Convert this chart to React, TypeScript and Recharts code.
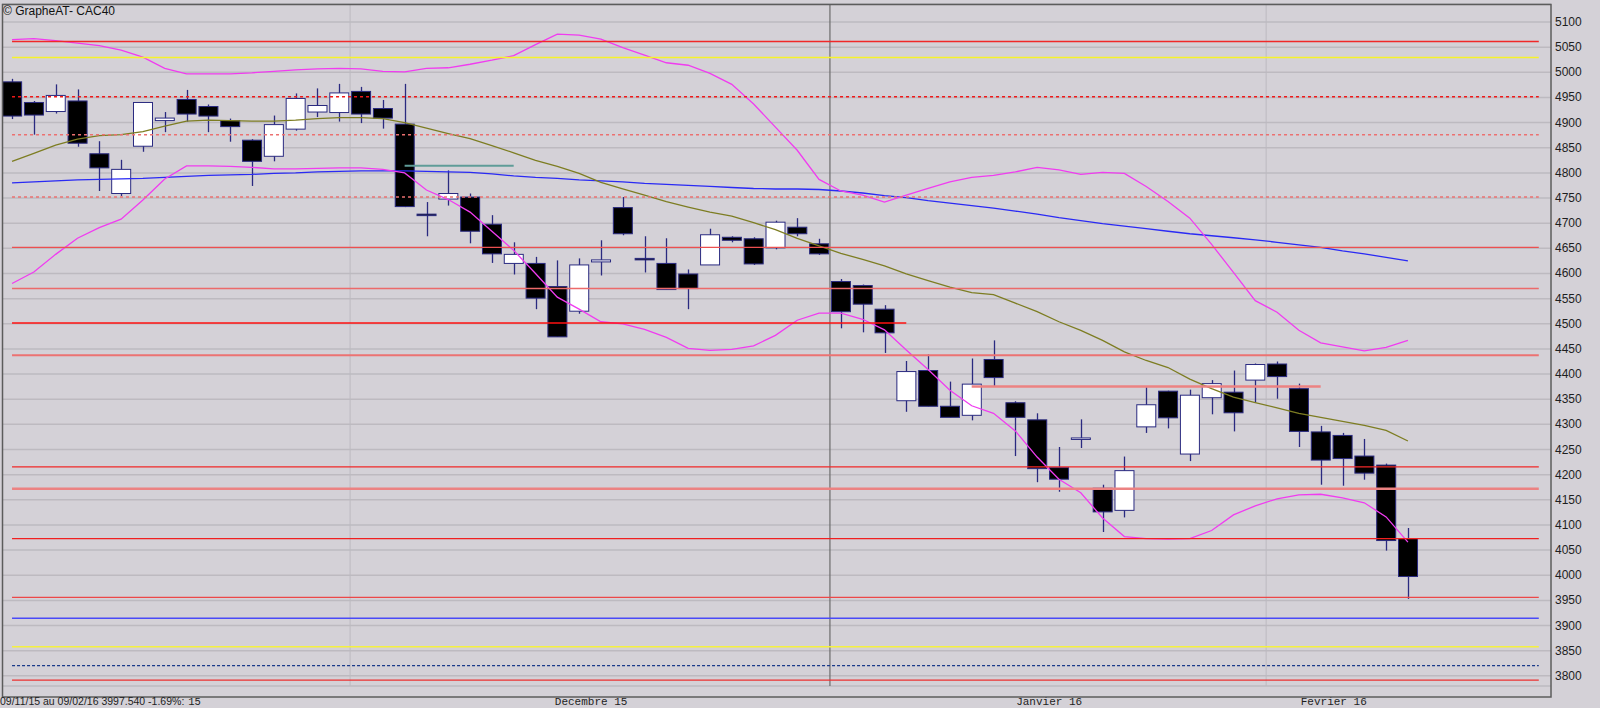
import { ComposedChart, Bar, Line, XAxis, YAxis, CartesianGrid, ReferenceLine } from 'recharts';

// trading days 09/11/15 -> 09/02/16
const dates = [
  '09/11', '10/11', '11/11', '12/11', '13/11', '16/11', '17/11', '18/11', '19/11', '20/11',
  '23/11', '24/11', '25/11', '26/11', '27/11', '30/11',
  '01/12', '02/12', '03/12', '04/12', '07/12', '08/12', '09/12', '10/12', '11/12', '14/12',
  '15/12', '16/12', '17/12', '18/12', '21/12', '22/12', '23/12', '24/12', '28/12', '29/12', '30/12', '31/12',
  '04/01', '05/01', '06/01', '07/01', '08/01', '11/01', '12/01', '13/01', '14/01', '15/01',
  '18/01', '19/01', '20/01', '21/01', '22/01', '25/01', '26/01', '27/01', '28/01', '29/01',
  '01/02', '02/02', '03/02', '04/02', '05/02', '08/02', '09/02',
];

const opens = [
  4981, 4940, 4922, 4943, 4838, 4759, 4853, 4904, 4946, 4932, 4904, 4865, 4833, 4887, 4921, 4920,
  4962, 4928, 4897, 4718, 4748, 4752, 4698, 4620, 4620, 4574, 4525, 4623, 4731, 4630, 4620, 4599,
  4617, 4672, 4669, 4651, 4692, 4659, 4584, 4576, 4529, 4347, 4407, 4336, 4318, 4429, 4343, 4309,
  4214, 4270, 4173, 4129, 4295, 4366, 4241, 4353, 4364, 4388, 4420, 4371, 4285, 4278, 4237, 4219, 4073,
];
const highs = [
  4987, 4943, 4976, 4966, 4863, 4826, 4940, 4921, 4965, 4936, 4908, 4867, 4914, 4958, 4968, 4977,
  4971, 4945, 4977, 4742, 4805, 4759, 4716, 4662, 4633, 4626, 4630, 4666, 4752, 4674, 4670, 4608,
  4689, 4674, 4672, 4705, 4710, 4669, 4589, 4578, 4537, 4426, 4439, 4385, 4431, 4467, 4346, 4322,
  4255, 4310, 4180, 4236, 4374, 4367, 4369, 4388, 4407, 4421, 4425, 4381, 4297, 4283, 4271, 4222, 4094,
];
const lows = [
  4907, 4876, 4918, 4852, 4764, 4754, 4842, 4881, 4902, 4881, 4862, 4774, 4823, 4884, 4911, 4902,
  4899, 4888, 4732, 4674, 4735, 4660, 4621, 4598, 4529, 4474, 4520, 4596, 4676, 4602, 4568, 4529,
  4617, 4662, 4617, 4648, 4674, 4637, 4491, 4483, 4442, 4325, 4336, 4314, 4308, 4375, 4237, 4185,
  4166, 4253, 4086, 4115, 4283, 4292, 4227, 4320, 4286, 4343, 4351, 4255, 4180, 4178, 4190, 4049, 3953,
];
const closes = [
  4913, 4915, 4954, 4859, 4810, 4807, 4940, 4909, 4917, 4913, 4892, 4823, 4896, 4948, 4934, 4959,
  4917, 4909, 4733, 4716, 4759, 4684, 4639, 4638, 4551, 4474, 4617, 4627, 4679, 4629, 4568, 4570,
  4677, 4666, 4619, 4702, 4679, 4639, 4524, 4539, 4482, 4405, 4336, 4314, 4380, 4393, 4314, 4212,
  4191, 4273, 4126, 4208, 4339, 4313, 4358, 4381, 4323, 4419, 4395, 4286, 4229, 4232, 4203, 4069, 3997.5,
];

// indicators
const ma20 = [
  4823, 4839, 4855, 4867, 4874, 4876, 4882, 4893, 4903, 4905, 4904, 4903, 4903, 4905, 4908, 4910,
  4910, 4908, 4900, 4889, 4878, 4868, 4854, 4840, 4825, 4813, 4799, 4781, 4768, 4756, 4743, 4732,
  4722, 4714, 4701, 4687, 4670, 4655, 4640, 4628, 4615, 4599, 4586, 4573, 4562, 4558, 4541, 4524,
  4504, 4487, 4467, 4444, 4427, 4413, 4390, 4371, 4354, 4343, 4333, 4322, 4314, 4306, 4298, 4288, 4267,
];
const ma50 = [
  4780, 4782, 4784, 4786, 4787, 4788, 4789, 4791, 4793, 4795, 4796, 4797, 4799, 4800, 4802, 4803,
  4804, 4804, 4804, 4803, 4802, 4801, 4798, 4794, 4791, 4789, 4786, 4784, 4782, 4779, 4777, 4775,
  4773, 4771, 4769, 4768, 4768, 4767, 4764, 4760, 4755, 4751, 4745, 4740, 4735, 4730, 4724, 4718,
  4711, 4705, 4699, 4694, 4689, 4684, 4679, 4675, 4671, 4667, 4662, 4657, 4652, 4645, 4639, 4632, 4625,
];
const bbUpper = [
  5065, 5067, 5063, 5058, 5053, 5044, 5030, 5008, 4997, 4997, 4997, 4999, 5002, 5005, 5007, 5008,
  5007, 5002, 5001, 5008, 5009, 5016, 5024, 5033, 5055, 5076, 5074, 5066, 5049, 5034, 5019, 5014,
  4998, 4976, 4937, 4891, 4845, 4787, 4764, 4756, 4742, 4756, 4769, 4782, 4791, 4795, 4802, 4811,
  4806, 4797, 4801, 4799, 4773, 4743, 4710, 4658, 4602, 4546, 4523, 4487, 4462, 4454, 4446, 4453, 4467,
];
const bbLower = [
  4580, 4603, 4638, 4670, 4691, 4708, 4746, 4788, 4814, 4814, 4813, 4811, 4808, 4808, 4809, 4810,
  4810, 4807, 4800, 4766, 4747, 4722, 4684, 4646, 4600, 4553, 4529, 4504, 4500, 4489, 4473, 4451,
  4447, 4449, 4456, 4477, 4507, 4521, 4521, 4509, 4488, 4448, 4409, 4368, 4337, 4322, 4287, 4235,
  4191, 4164, 4114, 4077, 4073, 4072, 4073, 4089, 4120, 4138, 4152, 4160, 4161, 4154, 4144, 4116, 4066,
];

// horizontal support / resistance levels (value, first and last candle index)
const levelValues = [
  5061, 5029.6, 4951.3, 4875.6, 4752.3, 4652, 4570.3, 4501.3, 4437.3, 4375.3,
  4215.6, 4171.8, 4072.8, 3956, 3914.3, 3857.6, 3820.4, 3791.6, 4814.3,
];
const levelFrom = [0, 0, 0, 0, 0, 0, 0, 0, 0, 44, 0, 0, 0, 0, 0, 0, 0, 0, 18];
const levelTo = [70, 70, 70, 70, 70, 70, 70, 41, 70, 60, 70, 70, 70, 70, 70, 70, 70, 70, 23];

const yTicks = [
  3800, 3850, 3900, 3950, 4000, 4050, 4100, 4150, 4200, 4250, 4300, 4350, 4400, 4450,
  4500, 4550, 4600, 4650, 4700, 4750, 4800, 4850, 4900, 4950, 5000, 5050, 5100,
];
const monthLabels = ['Decembre 15', 'Janvier 16', 'Fevrier 16'];
const monthTickPos = [26.55, 47.55, 60.6];
const monthStarts = [15.5, 37.5, 57.5];

const levelStyles = [
  { c: '#f02828', w: 1.5 },
  { c: '#f6f22a', w: 1.5 },
  { c: '#f01818', w: 1.5, d: '3 3' },
  { c: '#ec7070', w: 1.5, d: '3 3' },
  { c: '#ec7070', w: 1.5, d: '3 3' },
  { c: '#ec5050', w: 1.2 },
  { c: '#ec6a6a', w: 1.5 },
  { c: '#ff1010', w: 1.5 },
  { c: '#ec7272', w: 2 },
  { c: '#ec8282', w: 2.5 },
  { c: '#f02828', w: 1.2 },
  { c: '#ec8282', w: 2.5 },
  { c: '#f02020', w: 1.2 },
  { c: '#ec4848', w: 1.2 },
  { c: '#4a4af8', w: 1.5 },
  { c: '#f4f040', w: 1.5 },
  { c: '#1a3a8a', w: 1.2, d: '3 2' },
  { c: '#ec3030', w: 1.2 },
  { c: '#5f9c98', w: 2 },
];

const BG = '#d4d1d7';
const OUTLINE = '#2a2a80';

const data = dates.map((date, i) => ({
  i,
  date,
  open: opens[i],
  high: highs[i],
  low: lows[i],
  close: closes[i],
  ma20: ma20[i],
  ma50: ma50[i],
  bbUp: bbUpper[i],
  bbLow: bbLower[i],
}));

function Candle(props: any) {
  const { x, y, width, height, payload } = props;
  if (!payload) return null;
  const { open, close, high, low } = payload;
  const range = high - low || 1;
  const yOf = (v: number) => y + ((high - v) / range) * height;
  const cx = Math.round(x + width / 2) + 0.5;
  const top = yOf(Math.max(open, close));
  const bot = yOf(Math.min(open, close));
  const up = close >= open;
  return (
    <g>
      <line x1={cx} x2={cx} y1={y} y2={y + height} stroke={OUTLINE} strokeWidth={1.3} />
      <rect
        x={x + 0.5}
        y={top}
        width={width - 1}
        height={Math.max(bot - top, 1.5)}
        fill={up ? '#ffffff' : '#000000'}
        stroke={OUTLINE}
        strokeWidth={1}
      />
    </g>
  );
}

const YTick = (p: any) => (
  <text x={1555} y={p.y + 4} fontFamily="'Liberation Sans', Arial, sans-serif" fontSize={12} fill="#1e1e1e">
    {p.payload.value}
  </text>
);

const XTick = (p: any) => (
  <text x={p.x} y={705} textAnchor="middle" fontFamily="'Liberation Mono', monospace" fontSize={11} fill="#1e1e1e">
    {monthLabels[monthTickPos.indexOf(p.payload.value)]}
  </text>
);

export default function App() {
  return (
    <div style={{ position: 'absolute', left: 0, top: 0, width: 1600, height: 708, background: BG, overflow: 'hidden' }}>
      <ComposedChart width={1600} height={708} data={data} margin={{ top: 4, right: 0, bottom: 11, left: 2 }}>
        <CartesianGrid vertical={false} stroke="#bdbac0" strokeWidth={1.5} />
        <XAxis
          dataKey="i"
          type="number"
          domain={[-0.46, 70.56]}
          ticks={monthTickPos}
          interval={0}
          tick={<XTick />}
          tickLine={false}
          axisLine={false}
          height={11}
          allowDataOverflow
        />
        <YAxis
          orientation="right"
          type="number"
          domain={[3779.8, 5135.8]}
          ticks={yTicks}
          interval={0}
          tick={<YTick />}
          tickLine={false}
          axisLine={false}
          width={49}
          allowDataOverflow
        />
        {monthStarts.map((m, k) => (
          <ReferenceLine key={'m' + k} x={m} stroke={k === 1 ? '#6c6c6c' : '#bdbac0'} strokeWidth={k === 1 ? 1.2 : 1} />
        ))}
        <Bar
          dataKey={(d: any) => [d.low, d.high]}
          barSize={20}
          shape={(p: any) => <Candle {...p} />}
          isAnimationActive={false}
        />
        <Line dataKey="ma50" type="linear" stroke="#2a2af4" strokeWidth={1.3} dot={false} isAnimationActive={false} />
        <Line dataKey="ma20" type="linear" stroke="#7d7d22" strokeWidth={1.3} dot={false} isAnimationActive={false} />
        <Line dataKey="bbUp" type="linear" stroke="#f03cf0" strokeWidth={1.3} dot={false} isAnimationActive={false} />
        <Line dataKey="bbLow" type="linear" stroke="#f03cf0" strokeWidth={1.3} dot={false} isAnimationActive={false} />
        {levelValues.map((v, k) => (
          <ReferenceLine
            key={'l' + k}
            segment={[{ x: levelFrom[k], y: v }, { x: levelTo[k], y: v }]}
            stroke={levelStyles[k].c}
            strokeWidth={levelStyles[k].w}
            strokeDasharray={levelStyles[k].d}
            ifOverflow="visible"
          />
        ))}
      </ComposedChart>
      <svg width={1600} height={708} style={{ position: 'absolute', left: 0, top: 0, pointerEvents: 'none' }}>
        <rect x={2.5} y={4.5} width={1548.5} height={692.5} fill="none" stroke="#5c5c5c" strokeWidth={1.5} />
        <text x={3} y={15} fontFamily="'Liberation Sans', Arial, sans-serif" fontSize={12} fill="#111">
          © GrapheAT- CAC40
        </text>
        <text x={0} y={705} fontFamily="'Liberation Sans', Arial, sans-serif" fontSize={10.5} fill="#1e1e1e">
          09/11/15 au 09/02/16 3997.540 -1.69%:
          <tspan fontFamily="'Liberation Mono', monospace" dx={4}>15</tspan>
        </text>
      </svg>
    </div>
  );
}
